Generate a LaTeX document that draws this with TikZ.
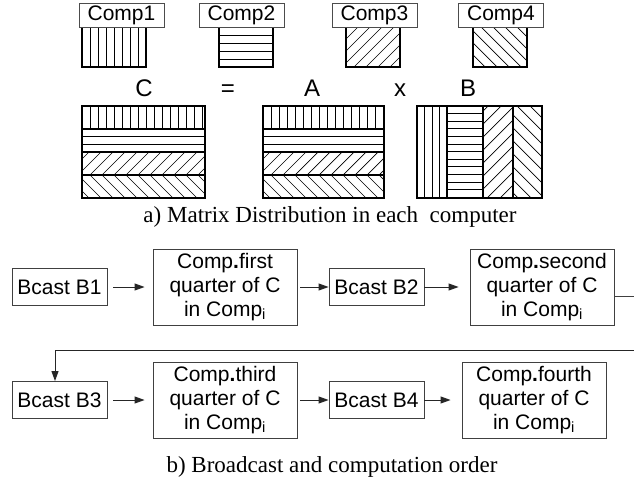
\documentclass[tikz,border=0pt]{standalone}
\usepackage{fontspec}
\setmainfont{Liberation Serif}
\newfontfamily\arialfont{Liberation Sans}
\usetikzlibrary{arrows.meta}

% Hatched fillings of a rectangle (x1,y1)-(x2,y2) with a given spacing
\newcommand\hatchvert[5]{%
  \begin{scope}
    \clip (#1,#2) rectangle (#3,#4);
    \foreach \i in {1,...,40}
      \draw[hatchline] ({#1+\i*#5},#2) -- ({#1+\i*#5},#4);
  \end{scope}}
\newcommand\hatchhorz[5]{%
  \begin{scope}
    \clip (#1,#2) rectangle (#3,#4);
    \foreach \i in {1,...,40}
      \draw[hatchline] (#1,{#2+\i*#5}) -- (#3,{#2+\i*#5});
  \end{scope}}
\newcommand\hatchrise[5]{%
  \begin{scope}
    \clip (#1,#2) rectangle (#3,#4);
    \foreach \i in {0,...,45}
      \draw[hatchline] ({#1-100+\i*#5},#4) -- ++(100,-100);
  \end{scope}}
\newcommand\hatchfall[5]{%
  \begin{scope}
    \clip (#1,#2) rectangle (#3,#4);
    \foreach \i in {0,...,45}
      \draw[hatchline] ({#1-100+\i*#5},#2) -- ++(100,100);
  \end{scope}}

\tikzset{
  hatchline/.style={line width=0.7pt, black},
  frame/.style={line width=1.6pt, black},
  labelbox/.style={draw=black!70, line width=0.8pt, fill=white, inner sep=0pt,
    minimum width=85pt, minimum height=24pt,
    font=\arialfont\fontsize{21}{24}\selectfont},
  bigletter/.style={anchor=base, inner sep=0pt, font=\arialfont\fontsize{24}{24}\selectfont},
  caption/.style={anchor=base, inner sep=0pt, font=\fontsize{23}{26}\selectfont},
  bcastbox/.style={draw=black!75, line width=0.9pt, inner sep=0pt,
    minimum width=95pt, minimum height=37pt,
    font=\arialfont\fontsize{21}{24}\selectfont},
  compbox/.style={draw=black!75, line width=0.9pt, inner sep=0pt, align=center,
    minimum width=144pt, minimum height=76pt,
    font=\arialfont\fontsize{21}{24}\selectfont},
  arr/.style={line width=0.9pt, black!85, -{Triangle[length=10pt,width=7pt]}},
  plainline/.style={line width=0.9pt, black!75}
}

\begin{document}
\begin{tikzpicture}[x=1pt, y=-1pt]
\useasboundingbox (0,0) rectangle (634,484);

% ---- pieces held by each computer
\hatchvert{82}{27}{146}{67}{8}
\draw[frame, line width=1.3pt] (82,27) rectangle (146,67);
\hatchhorz{219}{27}{273}{67}{8}
\draw[frame, line width=1.3pt] (219,27) rectangle (273,67);
\hatchrise{346}{27}{400}{67}{12}
\draw[frame, line width=1.3pt] (346,27) rectangle (400,67);
\hatchfall{473}{27}{527}{67}{12}
\draw[frame, line width=1.3pt] (473,27) rectangle (527,67);

\node[labelbox] (comp1) at (121.5,15) {Comp1};
\node[labelbox] (comp2) at (241.5,15) {Comp2};
\node[labelbox] (comp3) at (374.5,15) {Comp3};
\node[labelbox] (comp4) at (501,15) {Comp4};

% ---- C = A x B
\node[bigletter] (lc) at (144,97) {C};
\node[bigletter] (leq) at (228,97) {=};
\node[bigletter] (la) at (312,97) {A};
\node[bigletter] (lx) at (400,97) {x};
\node[bigletter] (lb) at (468,97) {B};

% matrix C, split in row blocks
\hatchvert{82}{106}{205}{129}{8}
\hatchhorz{82}{129}{205}{152}{7.67}
\hatchrise{82}{152}{205}{175}{12}
\hatchfall{82}{175}{205}{198}{12}
\draw[frame] (82,106) rectangle (205,198);
\draw[frame] (82,129) -- (205,129) (82,152) -- (205,152) (82,175) -- (205,175);

% matrix A, same row blocks
\hatchvert{263}{106}{384}{129}{8}
\hatchhorz{263}{129}{384}{152}{7.67}
\hatchrise{263}{152}{384}{175}{12}
\hatchfall{263}{175}{384}{198}{12}
\draw[frame] (263,106) rectangle (384,198);
\draw[frame] (263,129) -- (384,129) (263,152) -- (384,152) (263,175) -- (384,175);

% matrix B, split in column blocks
\hatchvert{417}{106}{447}{198}{7.5}
\hatchhorz{447}{106}{483}{198}{7.6}
\hatchrise{483}{106}{513}{198}{13}
\hatchfall{513}{106}{542}{198}{13}
\draw[frame] (417,106) rectangle (542,198);
\draw[frame] (447,106) -- (447,198) (483,106) -- (483,198) (513,106) -- (513,198);

\node[caption] (capa) at (330,222) {a) Matrix Distribution in each\ \ computer};

% ---- broadcast / computation sequence
\node[bcastbox] (b1) at (59.5,287) {Bcast B1};
\node[compbox] (q1) at (225,287) {Comp\textbf{.}first\\quarter of C\\in Comp\textsubscript{i}};
\node[bcastbox] (b2) at (376.5,287) {Bcast B2};
\node[compbox] (q2) at (542,287) {Comp\textbf{.}second\\quarter of C\\in Comp\textsubscript{i}};

\node[bcastbox] (b3) at (59.5,400) {Bcast B3};
\node[compbox] (q3) at (225,400) {Comp\textbf{.}third\\quarter of C\\in Comp\textsubscript{i}};
\node[bcastbox] (b4) at (376.5,400) {Bcast B4};
\node[compbox] (q4) at (534,400) {Comp\textbf{.}fourth\\quarter of C\\in Comp\textsubscript{i}};

\draw[arr, shorten <=6pt, shorten >=8pt] (b1.east) -- (b1.east -| q1.west);
\draw[arr, shorten <=3pt] (q1.east) -- (q1.east -| b2.west);
\draw[arr, shorten >=11pt] (b2.east) -- (b2.east -| q2.west);

\draw[arr, shorten <=6pt, shorten >=8pt] (b3.east) -- (b3.east -| q3.west);
\draw[arr, shorten <=3pt] (q3.east) -- (q3.east -| b4.west);
\draw[arr, shorten >=11pt] (b4.east) -- (b4.east -| q4.west);

% wrap-around from the first row to the second
\coordinate (trailend) at (634,296);
\draw[plainline] ([yshift=-9pt]q2.east) -- (trailend);
\coordinate (wrapr) at (634,350);
\coordinate (wrapl) at (55,350);
\draw[arr] (wrapr) -- (wrapl) -- (wrapl |- b3.north);

\node[caption] (capb) at (332,472) {b) Broadcast and computation order};
\end{tikzpicture}
\end{document}
